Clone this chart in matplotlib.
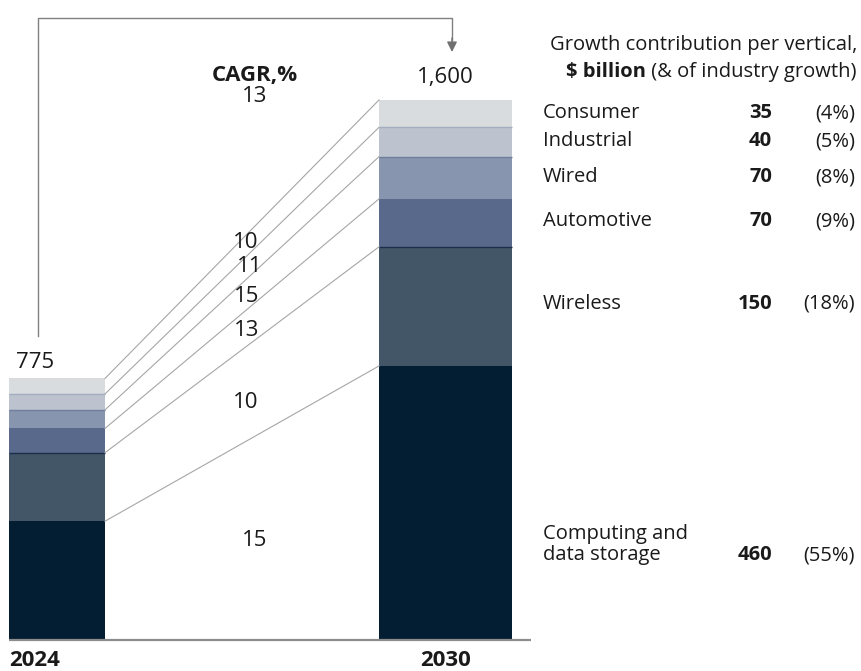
import numpy as np
import matplotlib
matplotlib.use('Agg')
import matplotlib.pyplot as plt
import matplotlib.transforms as mtrans

plt.rcParams['font.family'] = ['Open Sans', 'DejaVu Sans']

years = ['2024', '2030']
totals = ['775', '1,600']
verticals = ['Computing and\ndata storage', 'Wireless', 'Automotive', 'Wired', 'Industrial', 'Consumer']
v2024 = [352, 203, 72, 55, 47, 46]
v2030 = [812, 353, 142, 125, 87, 81]
cagr = ['15', '10', '13', '15', '11', '10']
cagr_total = '13'
growth = ['460', '150', '70', '70', '40', '35']
share = ['(55%)', '(18%)', '(9%)', '(8%)', '(5%)', '(4%)']

colors = ['#031d33', '#435668', '#58698c', '#8795ae', '#bcc3cf', '#d9dcdf']
# thin separator drawn on top of each segment
sep_colors = [None, '#1c2f4a', None, '#6f7f9b', '#a3adc0', None]

W, H = 862, 671
fig = plt.figure(figsize=(W / 100, H / 100), dpi=100)
ax = fig.add_axes([0, 0, 1, 1])
base = 640      # pixel row of baseline
s = 0.3375      # pixels per $bn
ax.set_xlim(0, W)
ax.set_ylim(-(H - base) / s, base / s)
ax.axis('off')


def py(p):
    # pixel row (from top) -> data y
    return (base - p) / s


xpos = [57, 445.5]
widths = [96, 133]
vals = np.array([v2024, v2030])
bottoms = np.zeros(2)
for i in range(len(verticals)):
    ax.bar(xpos, vals[:, i], widths, bottom=bottoms, color=colors[i], linewidth=0)
    bottoms += vals[:, i]

tops = np.cumsum(vals, axis=1)
for i, sc in enumerate(sep_colors):
    if sc is None:
        continue
    for j in range(2):
        ax.plot([xpos[j] - widths[j] / 2, xpos[j] + widths[j] / 2], [tops[j, i]] * 2,
                color=sc, lw=1, solid_capstyle='butt')

# connector lines between segment tops
x0 = xpos[0] + widths[0] / 2
x1 = xpos[1] - widths[1] / 2
for i in range(len(verticals)):
    ax.plot([x0, x1], [tops[0, i], tops[1, i]], color='#a6a6a6', lw=0.8)

ax.plot([9, 531], [0, 0], color='#8c8c8c', lw=1.6, solid_capstyle='butt')

# bracket with arrow
ax.plot([38.5, 38.5, 452, 452], [py(336), py(18), py(18), py(40)], color='#808080', lw=1)
ax.annotate('', xy=(452, py(52)), xytext=(452, py(38)),
            arrowprops=dict(arrowstyle='-|>,head_length=0.6,head_width=0.3',
                            color='#707070', lw=1, shrinkA=0, shrinkB=0))

fs = 16      # chart labels
ft = 14.5    # right-hand table
tc = '#1a1a1a'
ax.text(16, py(362), totals[0], fontsize=fs, color=tc, ha='left', va='center')
ax.text(xpos[1], py(78), totals[1], fontsize=fs, color=tc, ha='center', va='center')
ax.text(9, py(661), years[0], fontsize=fs, color=tc, ha='left', va='center', fontweight='bold')
ax.text(xpos[1], py(661), years[1], fontsize=fs, color=tc, ha='center', va='center', fontweight='bold')

ax.text(255, py(75), 'CAGR,%', fontsize=fs, color=tc, ha='center', va='center', fontweight='bold')
ax.text(255, py(97), cagr_total, fontsize=fs, color=tc, ha='center', va='center')
cagr_xy = [(255, 541), (246, 403), (247, 330), (247, 296), (250, 266), (246, 243)]
for lab, (x, y) in zip(cagr, cagr_xy):
    ax.text(x, py(y), lab, fontsize=fs, color=tc, ha='center', va='center')

# right-hand table
ax.text(857, py(45), 'Growth contribution per vertical,', fontsize=ft, color=tc,
        ha='right', va='center')
t2 = ax.text(857, py(72), ' (& of industry growth)', fontsize=ft, color=tc,
             ha='right', va='center')
fig.canvas.draw()
bb = t2.get_window_extent()
ax.text(bb.x0, py(72), '$ billion', fontsize=ft, color=tc, ha='right', va='center',
        fontweight='bold',
        transform=mtrans.blended_transform_factory(mtrans.IdentityTransform(), ax.transData))

row_y = [555, 304, 221, 177, 141, 113]
for name, g, sh, y in zip(verticals, growth, share, row_y):
    if '\n' in name:
        l1, l2 = name.split('\n')
        ax.text(543, py(y - 21), l1, fontsize=ft, color=tc, ha='left', va='center')
        ax.text(543, py(y), l2, fontsize=ft, color=tc, ha='left', va='center')
    else:
        ax.text(543, py(y), name, fontsize=ft, color=tc, ha='left', va='center')
    ax.text(772, py(y), g, fontsize=ft, color=tc, ha='right', va='center', fontweight='bold')
    ax.text(855, py(y), sh, fontsize=ft, color=tc, ha='right', va='center')

fig.savefig('out.png', dpi=100)
